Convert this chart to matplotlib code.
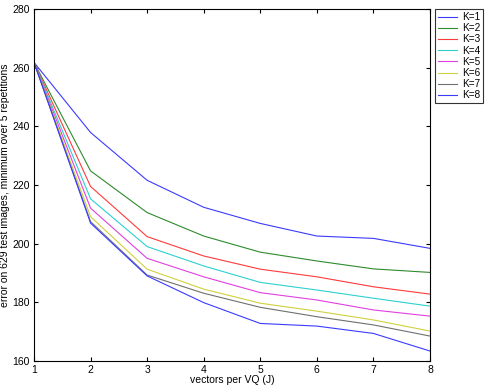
import matplotlib
matplotlib.use("Agg")
import matplotlib.pyplot as plt

J = [1, 2, 3, 4, 5, 6, 7, 8]
labels = ["K=1", "K=2", "K=3", "K=4", "K=5", "K=6", "K=7", "K=8"]
k1 = [261.8, 237.9, 221.6, 212.4, 206.9, 202.6, 201.8, 198.4]
k2 = [261.8, 224.8, 210.6, 202.6, 197.1, 194.1, 191.4, 190.2]
k3 = [261.8, 219.5, 202.4, 195.8, 191.3, 188.7, 185.3, 182.8]
k4 = [261.8, 215.3, 199.0, 192.4, 186.8, 184.2, 181.4, 178.7]
k5 = [261.8, 212.1, 195.0, 188.7, 183.3, 180.8, 177.4, 175.3]
k6 = [261.8, 209.2, 191.3, 184.5, 179.7, 177.0, 174.0, 170.2]
k7 = [261.8, 207.5, 189.3, 183.1, 178.3, 175.1, 172.3, 168.5]
k8 = [261.8, 207.0, 189.0, 179.9, 172.8, 171.9, 169.4, 163.4]
series = [k1, k2, k3, k4, k5, k6, k7, k8]
colors = ["#3b3bff", "#2e8b2e", "#ff3b3b", "#2ed0d0", "#e040e0", "#d0d040", "#707070", "#3b3bff"]

plt.rcParams['font.family'] = ['Liberation Sans', 'DejaVu Sans']
fig = plt.figure(figsize=(4.9, 3.88), dpi=100)
ax = fig.add_axes([34/490, 27/388, 396/490, 352/388])
for s, c, l in zip(series, colors, labels):
    ax.plot(J, s, color=c, lw=0.8, label=l)
ax.set_xlim(1, 8)
ax.set_ylim(160, 280)
ax.set_xticks(J)
ax.set_yticks([160, 180, 200, 220, 240, 260, 280])
ax.tick_params(direction='in', top=True, right=True, labelsize=7.5, length=3, pad=3)
ax.set_xlabel("vectors per VQ (J)", fontsize=7.5, labelpad=0)
ax.set_ylabel("error on 629 test images, minimum over 5 repetitions", fontsize=7.5, labelpad=2)
for sp in ax.spines.values():
    sp.set_linewidth(0.8)
leg = ax.legend(loc='upper left', bbox_to_anchor=(1.012, 1.0), fontsize=7.2, frameon=True,
                fancybox=False, edgecolor='black', handlelength=1.9, handletextpad=0.5,
                borderpad=0.3, labelspacing=0.12, borderaxespad=0)
leg.get_frame().set_linewidth(0.8)
fig.savefig("out.png", dpi=100)
